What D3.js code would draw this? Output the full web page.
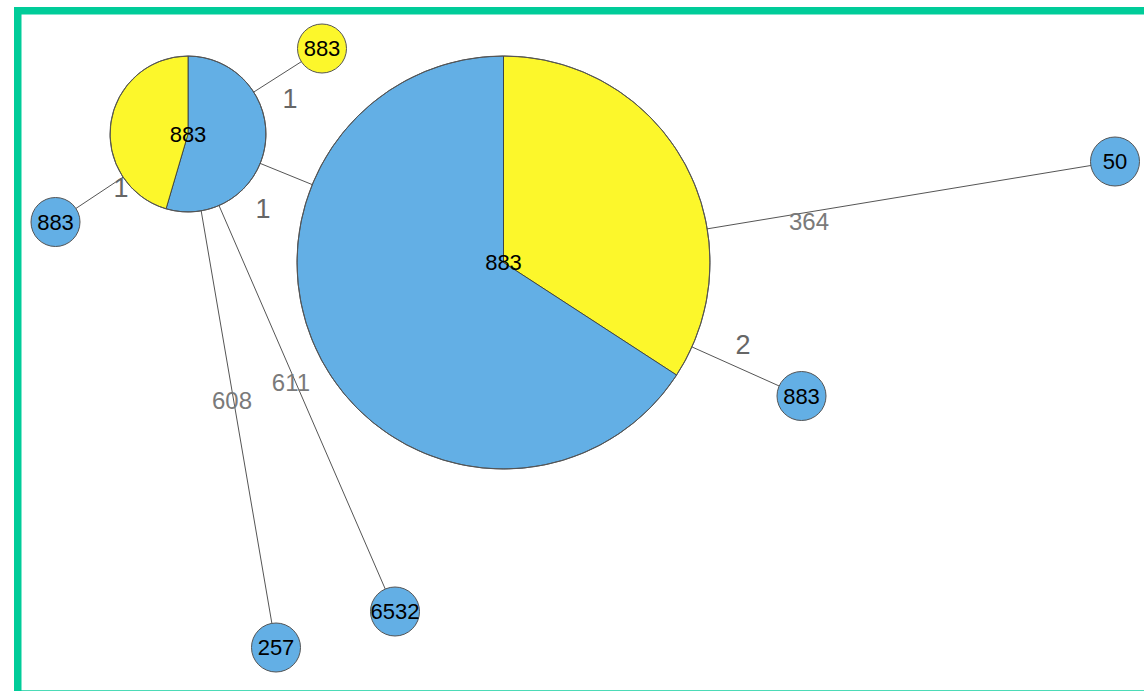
<!DOCTYPE html>
<html>
<head>
<meta charset="utf-8">
<script src="https://cdn.jsdelivr.net/npm/d3@7"></script>
<style>
  body { margin: 0; background: #fff; }
  svg { display: block; font-family: Arial, "Liberation Sans", sans-serif; }
</style>
</head>
<body>
<div id="chart-area"></div>
<script>
// nodes (layout units from the graph tool)
var nodeIds    = ['P', 'Q', 'Y1', 'L', 'N50', 'R', 'S', 'T'];
var nodeText   = ['883', '883', '883', '883', '50', '883', '6532', '257'];
var nodeLayX   = [168, 483.5, 302, 35.5, 1095, 781.5, 375, 256];
var nodeLayY   = [120, 248.5, 34.5, 208, 147.5, 382, 597.5, 633.5];
// pie slices per node, in drawing order (clockwise from 12 o'clock)
var sliceGroups = [
    ['blue', 'yellow'],
    ['yellow', 'blue'],
    ['yellow'],
    ['blue'], ['blue'], ['blue'], ['blue'], ['blue']
];
var sliceCounts = [
    [6, 5],
    [27, 52],
    [1],
    [1], [1], [1], [1], [1]
];

// edges
var edgeSource = ['P', 'P', 'P', 'P', 'P', 'Q', 'Q'];
var edgeTarget = ['Y1', 'Q', 'L', 'T', 'S', 'N50', 'R'];
var edgeLabels = ['1', '1', '1', '608', '611', '364', '2'];
var edgeLabX   = [270, 243, 101, 212, 271, 789, 723];
var edgeLabY   = [84, 194, 173.5, 386, 368, 207, 330];

var def = {
    width: 1144,
    height: 691,
    colors: { blue: '#63AFE5', yellow: '#FCF72B' }
};

var svg = d3.select('#chart-area').append('svg')
    .attr('width', def.width)
    .attr('height', def.height);

// green frame (runs off the right and bottom edges)
svg.append('rect')
    .attr('x', 17.75)
    .attr('y', 10.75)
    .attr('width', 1160)
    .attr('height', 683.3)
    .attr('fill', '#fff')
    .attr('stroke', '#00CC99')
    .attr('stroke-width', 7.5);

var x = d3.scaleLinear().domain([0, 1110]).range([20, 1130]);
var y = d3.scaleLinear().domain([0, 670]).range([14, 684]);

var nodes = nodeIds.map(function(id, i) {
    return {
        id: id,
        text: nodeText[i],
        x: x(nodeLayX[i]),
        y: y(nodeLayY[i]),
        slices: sliceGroups[i].map(function(g, j) {
            return { group: g, count: sliceCounts[i][j] };
        }),
        total: d3.sum(sliceCounts[i])
    };
});
var byId = {};
nodes.forEach(function(n) { byId[n.id] = n; });

var edges = edgeSource.map(function(s, i) {
    return {
        source: byId[s],
        target: byId[edgeTarget[i]],
        label: edgeLabels[i],
        lx: x(edgeLabX[i]),
        ly: y(edgeLabY[i])
    };
});

// radius grows with sqrt of member count
var r = d3.scalePow().exponent(0.5)
    .domain([1, d3.max(nodes, function(n) { return n.total; })])
    .range([24.5, 206.5]);

var pie = d3.pie().sort(null).value(function(d) { return d.count; });
var arc = d3.arc().innerRadius(0);

// edges behind the nodes
svg.append('g').selectAll('line')
    .data(edges)
    .enter().append('line')
    .attr('x1', function(d) { return d.source.x; })
    .attr('y1', function(d) { return d.source.y; })
    .attr('x2', function(d) { return d.target.x; })
    .attr('y2', function(d) { return d.target.y; })
    .attr('stroke', '#555')
    .attr('stroke-width', 1);

var node = svg.append('g').selectAll('g')
    .data(nodes)
    .enter().append('g')
    .attr('transform', function(d) { return 'translate(' + d.x + ',' + d.y + ')'; });

node.each(function(d) {
    var g = d3.select(this);
    var rad = r(d.total);
    if (d.slices.length === 1) {
        g.append('circle')
            .attr('r', rad)
            .attr('fill', def.colors[d.slices[0].group])
            .attr('stroke', '#555')
            .attr('stroke-width', 1);
    } else {
        g.selectAll('path')
            .data(pie(d.slices))
            .enter().append('path')
            .attr('d', function(a) { return arc.outerRadius(rad)(a); })
            .attr('fill', function(a) { return def.colors[a.data.group]; })
            .attr('stroke', '#333')
            .attr('stroke-width', 0.8);
        g.append('circle')
            .attr('r', rad)
            .attr('fill', 'none')
            .attr('stroke', '#555')
            .attr('stroke-width', 1);
    }
});

node.append('text')
    .attr('text-anchor', 'middle')
    .attr('dy', '0.36em')
    .attr('font-size', '22px')
    .attr('fill', '#000')
    .text(function(d) { return d.text; });

// edge labels, single digit ones are drawn a bit larger
svg.append('g').selectAll('text')
    .data(edges)
    .enter().append('text')
    .attr('x', function(d) { return d.lx; })
    .attr('y', function(d) { return d.ly; })
    .attr('dy', '0.36em')
    .attr('text-anchor', 'middle')
    .attr('font-size', function(d) { return d.label.length === 1 ? '27px' : '24px'; })
    .attr('fill', function(d) { return d.label.length === 1 ? '#666' : '#7a7a7a'; })
    .text(function(d) { return d.label; });
</script>
</body>
</html>
